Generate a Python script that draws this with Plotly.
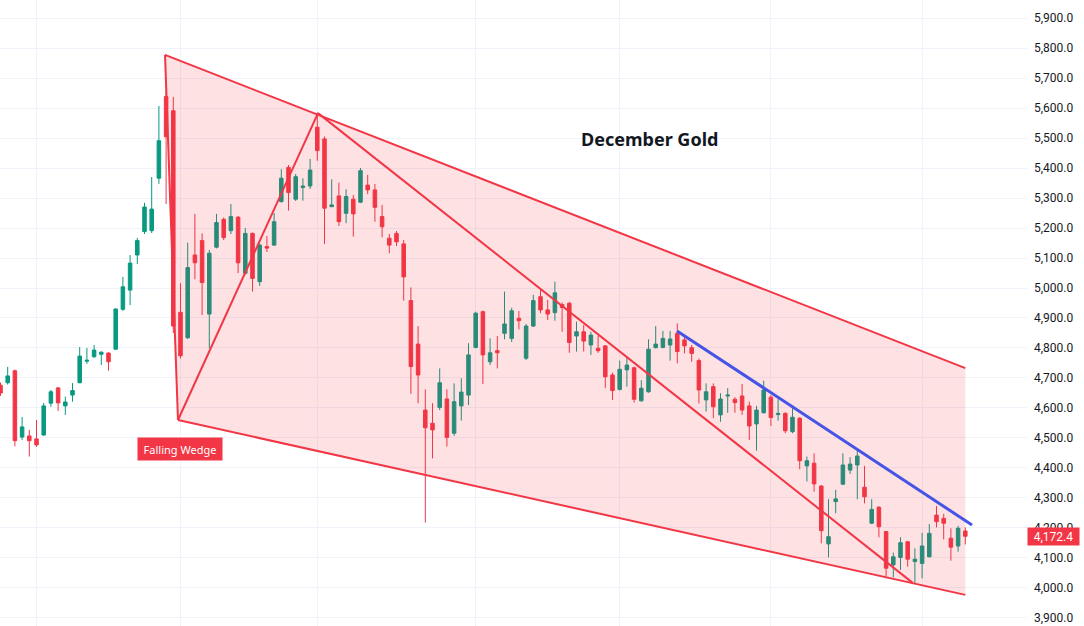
import plotly.graph_objects as go

# ---- daily candles (oldest -> newest), December Gold ----
opens = [4676, 4684, 4724, 4503, 4507, 4497, 4510, 4616, 4667, 4607, 4643, 4684, 4756, 4771, 4779, 4783,
         4796, 4929, 4993, 5110, 5188, 5191, 5366, 5638, 5591, 4919, 4834, 5110, 5158, 4913, 5136, 5229,
         5191, 5236, 5049, 5182, 5021, 5138, 5143, 5288, 5402, 5296, 5335, 5340, 5536, 5497, 5271, 5307,
         5249, 5296, 5286, 5343, 5327, 5238, 5166, 5182, 5147, 4958, 4813, 4593, 4549, 4602, 4630, 4516,
         4607, 4643, 4802, 4921, 4754, 4791, 4849, 4832, 4899, 4766, 4873, 4971, 4927, 4918, 4945, 4949,
         4840, 4854, 4810, 4799, 4807, 4710, 4662, 4727, 4734, 4624, 4654, 4801, 4802, 4810, 4849, 4827,
         4801, 4758, 4627, 4671, 4577, 4640, 4629, 4640, 4607, 4547, 4584, 4636, 4578, 4582, 4521, 4566,
         4407, 4416, 4340, 4147, 4288, 4346, 4393, 4410, 4336, 4216, 4269, 4188, 4077, 4102, 4154, 4088,
         4082, 4104, 4243, 4232, 4166, 4140, 4190]
highs = [4685, 4737, 4728, 4570, 4527, 4560, 4617, 4660, 4670, 4638, 4683, 4803, 4800, 4810, 4789, 4786,
         4932, 5037, 5110, 5167, 5284, 5370, 5607, 5660, 5637, 5016, 5151, 5247, 5182, 5127, 5247, 5235,
         5280, 5240, 5200, 5185, 5149, 5173, 5250, 5396, 5410, 5380, 5366, 5430, 5585, 5505, 5362, 5351,
         5329, 5310, 5400, 5377, 5347, 5277, 5180, 5190, 5160, 5002, 4873, 4662, 4616, 4732, 4662, 4682,
         4699, 4816, 4921, 4925, 4832, 4840, 4988, 4934, 4923, 4880, 4977, 4999, 4960, 5021, 4952, 4954,
         4888, 4877, 4854, 4840, 4810, 4718, 4758, 4769, 4738, 4693, 4829, 4873, 4857, 4857, 4882, 4843,
         4810, 4765, 4682, 4682, 4649, 4666, 4636, 4680, 4621, 4607, 4691, 4643, 4629, 4586, 4599, 4569,
         4438, 4449, 4342, 4296, 4327, 4449, 4436, 4458, 4407, 4296, 4273, 4190, 4118, 4169, 4156, 4132,
         4184, 4213, 4273, 4247, 4199, 4207, 4202]
lows = [4640, 4678, 4472, 4493, 4438, 4470, 4507, 4604, 4590, 4577, 4621, 4683, 4747, 4767, 4743, 4724,
        4795, 4924, 4943, 5080, 5180, 5183, 5347, 5280, 4850, 4765, 4830, 5029, 4910, 4799, 5132, 5160,
        5180, 5050, 5045, 4988, 5007, 5120, 5140, 5285, 5258, 5290, 5291, 5330, 5424, 5147, 5270, 5207,
        5216, 5171, 5283, 5313, 5221, 5169, 5116, 5140, 4958, 4647, 4616, 4218, 4432, 4593, 4471, 4507,
        4558, 4610, 4799, 4680, 4743, 4732, 4829, 4820, 4862, 4760, 4870, 4916, 4893, 4891, 4854, 4784,
        4788, 4788, 4777, 4784, 4666, 4627, 4658, 4671, 4618, 4621, 4651, 4799, 4799, 4758, 4749, 4782,
        4754, 4615, 4588, 4566, 4554, 4584, 4584, 4577, 4493, 4458, 4582, 4540, 4558, 4516, 4516, 4396,
        4355, 4321, 4149, 4102, 4249, 4343, 4380, 4296, 4282, 4213, 4169, 4038, 4036, 4060, 4071, 4016,
        4032, 4102, 4202, 4162, 4091, 4121, 4145]
closes = [4650, 4707, 4491, 4537, 4491, 4477, 4607, 4654, 4617, 4620, 4658, 4773, 4759, 4793, 4786, 4754,
          4930, 5004, 5083, 5158, 5270, 5263, 5491, 5504, 4873, 4774, 5068, 5084, 5018, 5116, 5218, 5168,
          5238, 5084, 5182, 5032, 5143, 5133, 5221, 5366, 5318, 5371, 5340, 5393, 5458, 5266, 5277, 5221,
          5305, 5247, 5391, 5327, 5269, 5204, 5143, 5154, 5037, 4738, 4710, 4534, 4527, 4684, 4502, 4621,
          4653, 4777, 4916, 4777, 4784, 4784, 4880, 4924, 4891, 4873, 4958, 4927, 4913, 4984, 4935, 4818,
          4854, 4823, 4843, 4791, 4704, 4658, 4729, 4743, 4629, 4666, 4796, 4813, 4832, 4830, 4788, 4807,
          4782, 4660, 4654, 4604, 4630, 4643, 4618, 4593, 4540, 4593, 4660, 4568, 4582, 4524, 4569, 4424,
          4424, 4347, 4191, 4171, 4297, 4410, 4413, 4440, 4304, 4262, 4204, 4066, 4104, 4151, 4096, 4096,
          4140, 4182, 4221, 4216, 4136, 4199, 4172.4]
bar_index = list(range(len(closes)))
month_start_idx = [5, 25, 44, 66, 86, 107, 128]

# ---- drawing anchors (bar index, price) ----
wedge_top_left = (22.85, 5777)
wedge_bottom_left = (24.65, 4560)
wedge_swing_high = (44.1, 5583)
wedge_inner_low = (126.7, 4017)
wedge_top_right = (134.0, 4733)
wedge_bottom_right = (134.0, 3977)
blue_start = (93.96, 4857)
blue_end = (134.93, 4210)
title_pos = (90.2, 5498)
label_pos = (24.95, 4463)
last_price = closes[-1]

RED = "#F23645"
GREEN = "#089981"
BLUE = "#4654E6"

fig = go.Figure()

# wedge fill
poly = [wedge_top_left, wedge_top_right, wedge_bottom_right, wedge_bottom_left, wedge_top_left]
fig.add_trace(go.Scatter(x=[p[0] for p in poly], y=[p[1] for p in poly], mode="lines",
                         fill="toself", fillcolor="rgba(242,54,69,0.15)",
                         line=dict(width=0), hoverinfo="skip", showlegend=False))

fig.add_trace(go.Candlestick(
    x=bar_index, open=opens, high=highs, low=lows, close=closes,
    increasing=dict(line=dict(color=GREEN, width=1), fillcolor=GREEN),
    decreasing=dict(line=dict(color=RED, width=1), fillcolor=RED),
    whiskerwidth=0, showlegend=False, hoverinfo="skip"))

def seg(p, q, color, width):
    fig.add_trace(go.Scatter(x=[p[0], q[0]], y=[p[1], q[1]], mode="lines",
                             line=dict(color=color, width=width), hoverinfo="skip", showlegend=False))

seg(wedge_top_left, wedge_top_right, RED, 2)
seg(wedge_bottom_left, wedge_bottom_right, RED, 2)
seg(wedge_top_left, wedge_bottom_left, RED, 2)
seg(wedge_bottom_left, wedge_swing_high, RED, 2)
seg(wedge_swing_high, wedge_inner_low, RED, 2)
seg(blue_start, blue_end, BLUE, 3)

fig.add_annotation(x=title_pos[0], y=title_pos[1], text="<b>December Gold</b>", showarrow=False,
                   font=dict(family="Noto Sans", size=18, color="#131722"))
fig.add_annotation(x=label_pos[0], y=label_pos[1], text="Falling Wedge", showarrow=False,
                   font=dict(family="Noto Sans", size=11, color="white"),
                   bgcolor=RED, borderpad=3, width=78, height=16, align="center", valign="middle")
fig.add_annotation(xref="paper", x=1.0, xanchor="left", y=last_price, yanchor="middle",
                   text=f"{last_price:,.1f}", showarrow=False,
                   font=dict(family="Roboto", size=12, color="white"), bgcolor=RED,
                   borderpad=1, width=49, height=15, align="center", valign="middle")

x_span = 1027 / 7.2
x0 = -0.5 / 7.2
fig.update_layout(
    width=1084, height=626, margin=dict(l=0, r=57, t=0, b=0),
    paper_bgcolor="white", plot_bgcolor="white",
    xaxis=dict(range=[x0, x0 + x_span], tickvals=month_start_idx, showticklabels=False,
               showgrid=True, gridcolor="#F0F3FA", zeroline=False, showline=False,
               rangeslider=dict(visible=False), fixedrange=True),
    yaxis=dict(side="right", range=[3873.3, 5960], dtick=100, tick0=0, tickformat=",.1f",
               showgrid=True, gridcolor="#F0F3FA", zeroline=False, showline=False, ticks="",
               ticklabelstandoff=6,
               tickfont=dict(family="Roboto", size=12, color="#131722"), fixedrange=True),
    showlegend=False,
)

fig.write_html("out.html")
